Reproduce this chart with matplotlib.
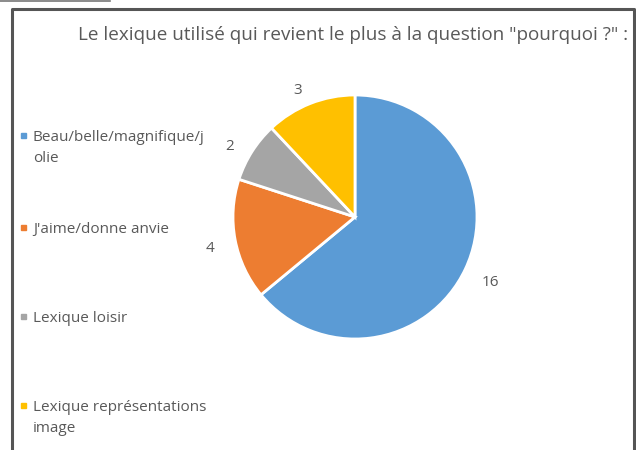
import matplotlib.pyplot as plt
from matplotlib.patches import Rectangle

plt.rcParams['font.family'] = ['Open Sans', 'DejaVu Sans']

# Données
categories = ["Beau/belle/magnifique/j\nolie", "J'aime/donne anvie", "Lexique loisir",
              "Lexique représentations\nimage"]
values = [16, 4, 2, 3]
colors = ['#5B9BD5', '#ED7D31', '#A5A5A5', '#FFC000']
title = 'Le lexique utilisé qui revient le plus à la question "pourquoi ?" :'

W, H = 636, 450
fig = plt.figure(figsize=(W / 100, H / 100), dpi=100)
txt = '#595959'

def fx(px):
    return px / W

def fy(py):
    return 1 - py / H

# cadre de la capture
fig.add_artist(plt.Line2D([fx(12), fx(12), fx(634), fx(634)],
                          [0, fy(9), fy(9), 0], color='#555555', lw=2.2))
fig.add_artist(plt.Line2D([0, fx(110)], [fy(0.5), fy(0.5)], color='#777777', lw=1.2))

fig.text(fx(628), fy(35), title, ha='right', va='center', fontsize=13.6, color=txt)

# camembert
cx, cy, r = 355, 217, 122
ax = fig.add_axes([fx(cx - r), fy(cy + r), 2 * r / W, 2 * r / H])
wedges, labels = ax.pie(values, colors=colors, startangle=90, counterclock=False,
                        labels=[str(v) for v in values], labeldistance=1.16,
                        wedgeprops=dict(edgecolor='white', linewidth=2),
                        textprops=dict(color=txt, fontsize=11))
for t in labels:
    x, y = t.get_position()
    t.set_position((x - 0.01, y - 0.04))
ax.set_xlim(-1, 1)
ax.set_ylim(-1, 1)
ax.set_aspect('equal')

# légende
leg_y = [135, 227, 316, 405]
for lab, col, y in zip(categories, colors, leg_y):
    fig.add_artist(Rectangle((fx(21), fy(y + 3)), 5 / W, 5 / H, color=col))
    fig.text(fx(33), fy(y - 5), lab, ha='left', va='top', fontsize=11, color=txt,
             linespacing=1.55)

fig.savefig('out.png', dpi=100, facecolor='white')
